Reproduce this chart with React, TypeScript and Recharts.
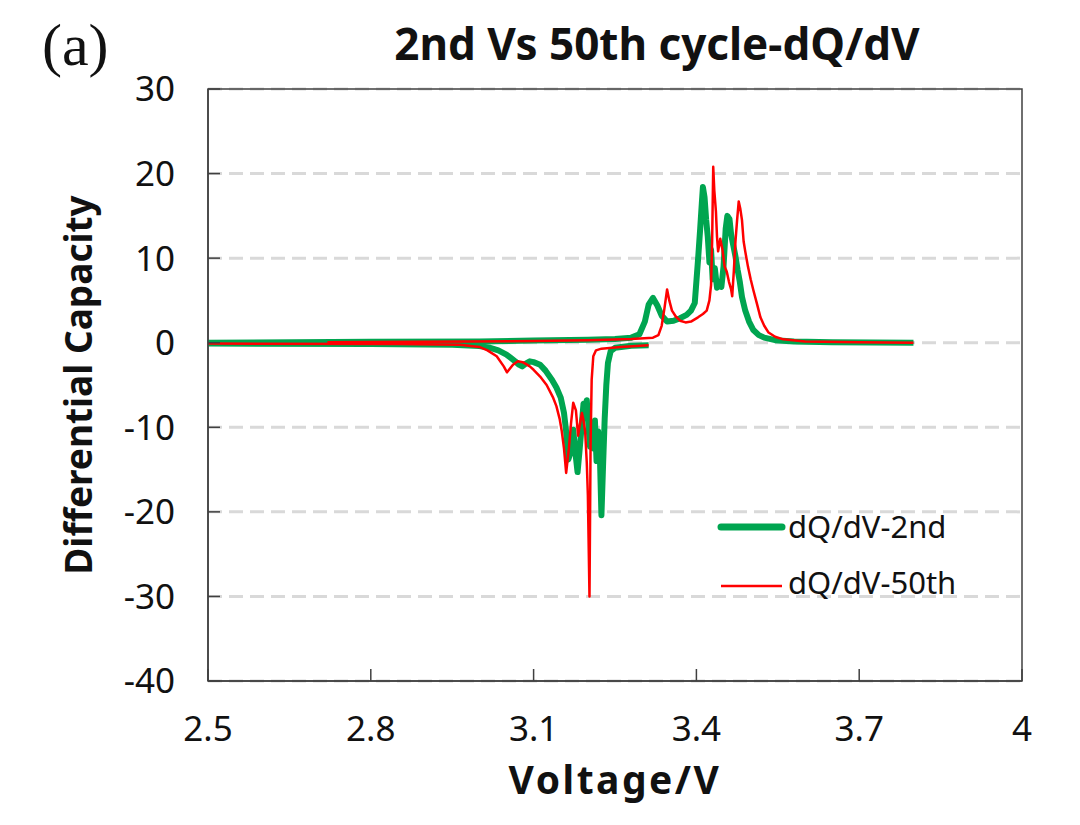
import React from 'react';
import { LineChart, Line, XAxis, YAxis, CartesianGrid, ReferenceArea } from 'recharts';

const voltageTicks = [2.5, 2.8, 3.1, 3.4, 3.7, 4];
const capacityTicks = [-40, -30, -20, -10, 0, 10, 20, 30];

// 2nd cycle, charge branch [V, dQ/dV]
const charge2nd: [number, number][] = [
  [2.5, 0.0], [2.8, 0.1], [3.0, 0.15], [3.1, 0.25], [3.2, 0.35], [3.25, 0.45], [3.28, 0.6],
  [3.295, 1.0], [3.305, 2.5], [3.312, 4.5], [3.32, 5.3], [3.328, 4.4], [3.336, 3.2], [3.346, 2.5],
  [3.358, 2.6], [3.37, 2.9], [3.382, 3.3], [3.39, 3.8], [3.397, 4.7], [3.403, 9.8], [3.407, 13.5],
  [3.41, 16.5], [3.412, 18.4], [3.415, 17.2], [3.418, 14.5], [3.421, 12.5], [3.424, 9.5], [3.427, 11],
  [3.43, 7.5], [3.434, 8.8], [3.438, 6.5], [3.442, 7.2], [3.446, 6.6], [3.45, 9.0], [3.454, 13.5],
  [3.457, 15.0], [3.461, 14.6], [3.464, 12.8], [3.468, 11.5], [3.472, 10.2], [3.476, 8.6], [3.48, 7.2],
  [3.484, 5.4], [3.49, 3.8], [3.497, 2.5], [3.505, 1.5], [3.515, 0.9], [3.525, 0.6], [3.545, 0.3],
  [3.58, 0.15], [3.65, 0.05], [3.8, 0.0],
];

// 2nd cycle, discharge branch
const discharge2nd: [number, number][] = [
  [3.312, -0.3], [3.28, -0.35], [3.25, -0.6], [3.242, -1.0], [3.237, -2.4], [3.234, -5.0], [3.231, -9.0],
  [3.228, -14.5], [3.225, -20.4], [3.222, -13], [3.219, -10.5], [3.216, -14], [3.213, -9.2], [3.21, -12.5],
  [3.207, -9.5], [3.204, -12.3], [3.201, -9.8], [3.198, -6.8], [3.195, -8.0], [3.192, -7.2], [3.189, -9.5],
  [3.185, -12.5], [3.181, -15.3], [3.177, -13.0], [3.173, -10.3], [3.169, -12.8], [3.164, -13.8],
  [3.16, -10.5], [3.156, -8.3], [3.15, -6.5], [3.142, -5.3], [3.134, -4.4], [3.122, -3.3], [3.112, -2.6],
  [3.1, -2.3], [3.093, -2.2], [3.085, -2.5], [3.079, -2.8], [3.073, -2.6], [3.066, -2.2], [3.058, -1.8],
  [3.05, -1.4], [3.035, -0.9], [3.02, -0.6], [3.0, -0.4], [2.95, -0.25], [2.8, -0.15], [2.5, -0.1],
];

// 50th cycle, charge branch
const charge50th: [number, number][] = [
  [2.72, 0.05], [2.9, 0.1], [3.1, 0.2], [3.2, 0.3], [3.28, 0.45], [3.32, 0.6], [3.33, 0.9], [3.336, 2.0],
  [3.341, 4.0], [3.346, 6.3], [3.35, 5.0], [3.355, 3.8], [3.362, 3.1], [3.37, 2.6], [3.38, 2.4], [3.39, 2.5],
  [3.403, 3.0], [3.412, 3.4], [3.419, 3.8], [3.424, 5.0], [3.427, 6.8], [3.429, 12], [3.431, 20.8],
  [3.433, 18.0], [3.436, 15.5], [3.438, 12.5], [3.44, 10.8], [3.444, 12.3], [3.448, 11.0], [3.452, 9.0],
  [3.456, 8.4], [3.46, 7.2], [3.464, 6.3], [3.466, 5.5], [3.469, 8.5], [3.472, 12.0], [3.475, 14.5],
  [3.478, 16.7], [3.481, 15.8], [3.484, 14.5], [3.487, 12.0], [3.49, 10.8], [3.495, 9.0], [3.5, 7.5],
  [3.505, 6.2], [3.512, 4.5], [3.518, 3.0], [3.525, 2.0], [3.533, 1.2], [3.545, 0.7], [3.56, 0.4],
  [3.6, 0.15], [3.7, 0.05], [3.8, 0.0],
];

// 50th cycle, discharge branch
const discharge50th: [number, number][] = [
  [3.312, -0.3], [3.26, -0.5], [3.225, -0.7], [3.215, -0.9], [3.21, -1.6], [3.207, -4.4], [3.205, -12],
  [3.203, -30], [3.2, -18], [3.198, -14.2], [3.195, -10.5], [3.192, -9.2], [3.189, -8.3], [3.185, -9.8],
  [3.182, -11], [3.178, -8.0], [3.173, -7.1], [3.169, -9.5], [3.165, -12.5], [3.16, -15.4], [3.156, -12.5],
  [3.152, -10.5], [3.148, -9.0], [3.142, -7.5], [3.136, -6.5], [3.124, -5.0], [3.112, -4.0], [3.1, -3.2],
  [3.093, -2.8], [3.08, -2.3], [3.071, -2.2], [3.062, -2.6], [3.051, -3.5], [3.045, -2.8], [3.032, -1.6],
  [3.015, -0.9], [3.0, -0.5], [2.964, -0.25], [2.85, -0.15], [2.5, -0.1],
];

const seriesNames = ['dQ/dV-2nd', 'dQ/dV-50th'];

const toPoints = (arr: [number, number][]) => arr.map(([v, q]) => ({ v, q }));

const GREEN = '#00a550';
const RED = '#ff0000';
const AXIS = '#404040';
const FONT = '"Noto Sans", "Open Sans", sans-serif';

const X_TICK_MARGIN = 35;
const Y_TICK_MARGIN = 33;
const TICK_FONT = 35;

const XTick = (props: any) => {
  const { x, y, payload } = props;
  const axisY = y - X_TICK_MARGIN;
  return (
    <g>
      <line x1={x} x2={x} y1={axisY} y2={axisY - 12} stroke={AXIS} strokeWidth={1.5} />
      <text x={x} y={y} dy="0.71em" textAnchor="middle" fontSize={TICK_FONT} fontFamily={FONT} fill="#111">
        {String(payload.value)}
      </text>
    </g>
  );
};

const YTick = (props: any) => {
  const { x, y, payload } = props;
  const axisX = x + Y_TICK_MARGIN;
  return (
    <g>
      <line x1={axisX} x2={axisX + 12} y1={y} y2={y} stroke={AXIS} strokeWidth={1.5} />
      <text x={x} y={y} dy="0.355em" textAnchor="end" fontSize={TICK_FONT} fontFamily={FONT} fill="#111">
        {String(payload.value)}
      </text>
    </g>
  );
};

export default function App() {
  return (
    <div style={{ position: 'relative', width: 1064, height: 809 }}>
      <LineChart width={1064} height={809} margin={{ top: 81, right: 50, bottom: 0, left: 0 }}>
        <CartesianGrid
          horizontal
          vertical={false}
          stroke="#d9d9d9"
          strokeWidth={3}
          strokeDasharray="14 7"
        />
        <XAxis
          type="number"
          dataKey="v"
          domain={[2.5, 4]}
          ticks={voltageTicks}
          interval={0}
          allowDataOverflow
          height={136}
          tickSize={0}
          tickMargin={X_TICK_MARGIN}
          tick={<XTick />}
          axisLine={{ stroke: AXIS, strokeWidth: 1.5 }}
          tickLine={false}
        />
        <YAxis
          type="number"
          dataKey="q"
          domain={[-40, 30]}
          ticks={capacityTicks}
          interval={0}
          allowDataOverflow
          width={200}
          tickSize={0}
          tickMargin={Y_TICK_MARGIN}
          tick={<YTick />}
          axisLine={{ stroke: AXIS, strokeWidth: 1.5 }}
          tickLine={false}
        />
        <ReferenceArea x1={2.5} x2={4} y1={-40} y2={30} fill="none" fillOpacity={0} stroke={AXIS} strokeWidth={1.5} />
        <Line data={toPoints(charge2nd)} dataKey="q" name={seriesNames[0]} type="linear" stroke={GREEN} strokeWidth={6} dot={false} isAnimationActive={false} strokeLinejoin="round" />
        <Line data={toPoints(discharge2nd)} dataKey="q" name={seriesNames[0] + ' dis'} type="linear" stroke={GREEN} strokeWidth={6} dot={false} isAnimationActive={false} strokeLinejoin="round" legendType="none" />
        <Line data={toPoints(charge50th)} dataKey="q" name={seriesNames[1]} type="linear" stroke={RED} strokeWidth={2.5} dot={false} isAnimationActive={false} strokeLinejoin="round" />
        <Line data={toPoints(discharge50th)} dataKey="q" name={seriesNames[1] + ' dis'} type="linear" stroke={RED} strokeWidth={2.5} dot={false} isAnimationActive={false} strokeLinejoin="round" legendType="none" />
      </LineChart>
      <svg width={1064} height={809} style={{ position: 'absolute', left: 0, top: 0, pointerEvents: 'none' }}>
        <text x={34} y={57} fontFamily='"Liberation Serif", "Times New Roman", serif' fontSize={60} fill="#111">(a)</text>
        <text x={649} y={52} textAnchor="middle" fontFamily={FONT} fontWeight="bold" fontSize={44} fill="#111">2nd Vs 50th cycle-dQ/dV</text>
        <text x={607} y={786} textAnchor="middle" fontFamily={FONT} fontWeight="bold" fontSize={39} letterSpacing={2.5} fill="#111">Voltage/V</text>
        <text transform="translate(84,377) rotate(-90)" textAnchor="middle" fontFamily={FONT} fontWeight="bold" fontSize={37} fill="#111">Differential Capacity</text>
        <line x1={713} x2={774} y1={519} y2={519} stroke={GREEN} strokeWidth={7} strokeLinecap="round" />
        <text x={780} y={530} fontFamily={FONT} fontSize={31} fill="#111">{seriesNames[0]}</text>
        <line x1={713} x2={774} y1={578} y2={578} stroke={RED} strokeWidth={2.5} />
        <text x={780} y={586} fontFamily={FONT} fontSize={31} fill="#111">{seriesNames[1]}</text>
      </svg>
    </div>
  );
}
